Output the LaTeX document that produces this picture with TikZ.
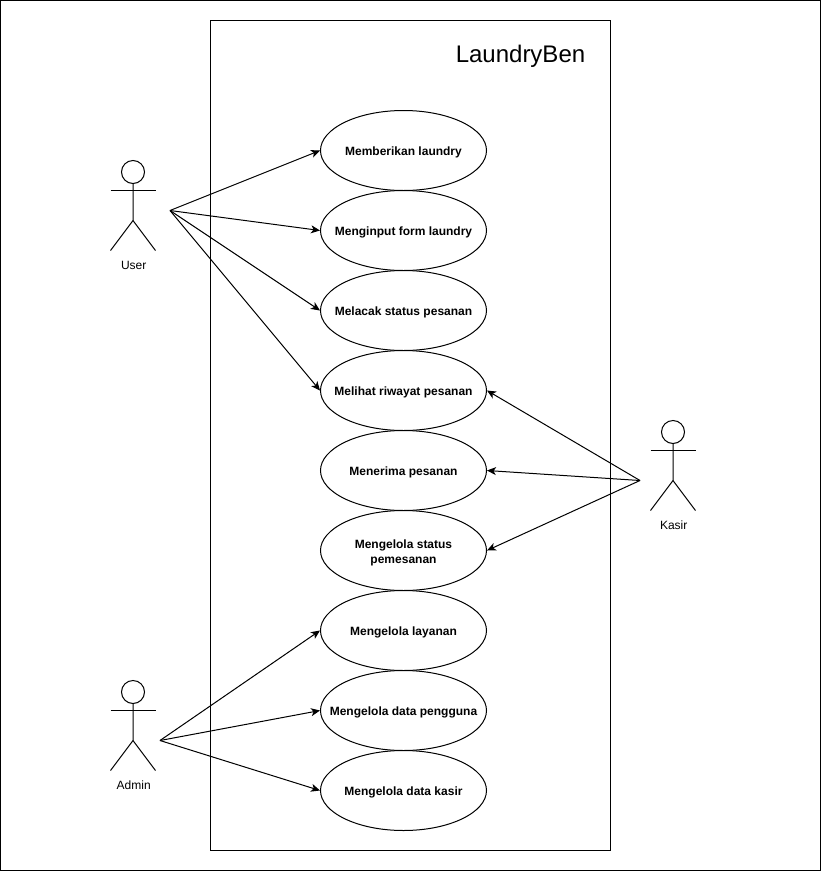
\documentclass[tikz,border=0pt]{standalone}
\usepackage{fontspec}
\setmainfont{Liberation Sans}
\usetikzlibrary{arrows.meta,shapes.geometric}
\tikzset{
  usecase/.style={draw,ellipse,fill=white,minimum width=166pt,minimum height=80pt,inner sep=0pt},
  casetext/.style={align=center,inner sep=0pt,yshift=-2pt,font=\fontsize{12}{15}\selectfont\bfseries},
  head/.style={draw,circle,minimum size=23pt,inner sep=0pt},
  link/.style={-{Stealth[length=9pt,width=8pt,inset=2.5pt]}}
}
\begin{document}
\begin{tikzpicture}[x=1pt,y=-1pt,line width=1pt]
\useasboundingbox (0,0) rectangle (821,871);
\draw[line width=1.4pt] (.7,.7) rectangle (820.3,870.3);
\draw (210.5,20.5) rectangle (610.5,850.5);
\node[font=\fontsize{24}{28}\selectfont] (title) at (520.5,56) {LaundryBen};
% use cases
\foreach \name/\y/\txt in {give/150.5/Memberikan laundry,form/230.5/Menginput form laundry,
  track/310.5/Melacak status pesanan,history/390.5/Melihat riwayat pesanan,accept/470.5/Menerima pesanan,
  status/550.5/{Mengelola status\\pemesanan},service/630.5/Mengelola layanan,users/710.5/Mengelola data pengguna,
  cashier/790.5/Mengelola data kasir}
  \node[usecase,label={[casetext]center:{\txt}}] (\name) at (403.5,\y) {};
% actors
\foreach \name/\x/\y/\txt in {user/133/160.5/User,admin/133/680.5/Admin,kasir/673/420.5/Kasir} {
  \node[head] (\name) at (\x,\y+11.5) {};
  \draw (\name.south) -- (\x,\y+60) -- (\x-22.5,\y+90);
  \draw (\x,\y+60) -- (\x+22.5,\y+90);
  \draw (\x-22.5,\y+30) -- (\x+22.5,\y+30);
  \node[font=\fontsize{12}{15}\selectfont] (\name-label) at (\x+.7,\y+104.5) {\txt};
}
\coordinate (user-end) at (170,210.5);
\coordinate (admin-end) at (160,740.5);
\coordinate (kasir-end) at (640,480.5);
\foreach \to in {give,form,track,history}
  \draw[link] (user-end) -- (\to.west);
\foreach \to in {service,users,cashier}
  \draw[link] (admin-end) -- (\to.west);
\foreach \to in {history,accept,status}
  \draw[link] (kasir-end) -- (\to.east);
\end{tikzpicture}
\end{document}
